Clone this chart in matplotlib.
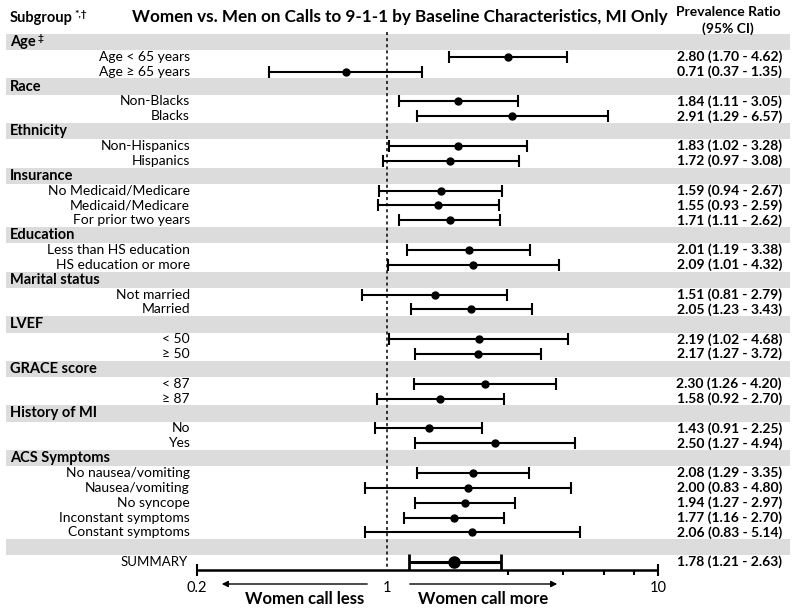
import matplotlib
matplotlib.use("Agg")
import matplotlib.pyplot as plt
import matplotlib.transforms as mtransforms
import numpy as np

plt.rcParams['font.family'] = ['Lato', 'DejaVu Sans']

# data
group_names = ["Age", "Race", "Ethnicity", "Insurance", "Education",
               "Marital status", "LVEF", "GRACE score", "History of MI", "ACS Symptoms"]
group_marks = ["\u2021", "", "", "", "", "", "", "", "", ""]
group_sizes = [2, 2, 2, 3, 2, 2, 2, 2, 2, 5]
sub_labels = ["Age < 65 years", "Age \u2265 65 years",
              "Non-Blacks", "Blacks",
              "Non-Hispanics", "Hispanics",
              "No Medicaid/Medicare", "Medicaid/Medicare", "For prior two years",
              "Less than HS education", "HS education or more",
              "Not married", "Married",
              "< 50", "\u2265 50",
              "< 87", "\u2265 87",
              "No", "Yes",
              "No nausea/vomiting", "Nausea/vomiting", "No syncope",
              "Inconstant symptoms", "Constant symptoms"]
pr = [2.80, 0.71, 1.84, 2.91, 1.83, 1.72, 1.59, 1.55, 1.71, 2.01, 2.09,
      1.51, 2.05, 2.19, 2.17, 2.30, 1.58, 1.43, 2.50, 2.08, 2.00, 1.94, 1.77, 2.06]
lo = [1.70, 0.37, 1.11, 1.29, 1.02, 0.97, 0.94, 0.93, 1.11, 1.19, 1.01,
      0.81, 1.23, 1.02, 1.27, 1.26, 0.92, 0.91, 1.27, 1.29, 0.83, 1.27, 1.16, 0.83]
hi = [4.62, 1.35, 3.05, 6.57, 3.28, 3.08, 2.67, 2.59, 2.62, 3.38, 4.32,
      2.79, 3.43, 4.68, 3.72, 4.20, 2.70, 2.25, 4.94, 3.35, 4.80, 2.97, 2.70, 5.14]
sum_pr, sum_lo, sum_hi = 1.78, 1.21, 2.63
axis_ticks = [0.2, 1, 10]
minor_ticks = [2.8, 4.45, 6.35, 8.15]

W, H = 795, 608
fig = plt.figure(figsize=(W / 100, H / 100), dpi=100)
ax = fig.add_axes([0, 0, 1, 1])
ax.set_xscale('log')
ppd = 271.5   # pixels per decade
x1px = 386.5
ax.set_xlim(10 ** (-x1px / ppd), 10 ** ((W - x1px) / ppd))
row0, rowh = 42.0, 14.86
ax.set_ylim((H - row0) / rowh, -row0 / rowh)
ax.axis('off')

def px(x):
    return x / W

def rowy(y):
    return (y - row0) / rowh

tb = mtransforms.blended_transform_factory(ax.transAxes, ax.transData)
band_col = '#dcdcdc'

def band(r):
    ax.axhspan(r - 0.55, r + 0.55, xmin=px(6), xmax=px(790), color=band_col, lw=0, zorder=0)

# rows
r = 0
k = 0
for name, mark, n in zip(group_names, group_marks, group_sizes):
    band(r)
    t = ax.text(px(10), r, name, transform=tb, ha='left', va='center',
                fontsize=10.5, fontweight='bold')
    if mark:
        ax.annotate(mark, xy=(1, 1), xycoords=t, xytext=(1, 1), textcoords='offset points',
                    ha='left', va='top', fontsize=7.5, fontweight='bold')
    r += 1
    for i in range(n):
        ax.text(px(190), r, sub_labels[k], transform=tb, ha='right', va='center', fontsize=10)
        ax.errorbar(pr[k], r, xerr=[[pr[k] - lo[k]], [hi[k] - pr[k]]], fmt='o', color='black',
                    ms=5, lw=1.5, capsize=4.5, capthick=1.5, zorder=3)
        ax.text(px(782), r, f"{pr[k]:.2f} ({lo[k]:.2f} - {hi[k]:.2f})", transform=tb,
                ha='right', va='center', fontsize=10, fontweight='bold')
        r += 1
        k += 1

# blank band and summary
band(r)
r += 1
ax.text(px(188), r, "SUMMARY", transform=tb, ha='right', va='center', fontsize=9.5)
ax.errorbar(sum_pr, r, xerr=[[sum_pr - sum_lo], [sum_hi - sum_pr]], fmt='o', color='black',
            ms=8, lw=2.2, capsize=5.5, capthick=2, zorder=3)
ax.text(px(782), r, f"{sum_pr:.2f} ({sum_lo:.2f} - {sum_hi:.2f})", transform=tb,
        ha='right', va='center', fontsize=10, fontweight='bold')

# reference line at 1
ax.vlines(1, rowy(32), rowy(570), colors='black', linestyles=(0, (2, 2)), lw=1.1, zorder=2)

# bottom axis
ya = rowy(570)
ax.hlines(ya, axis_ticks[0], axis_ticks[-1], colors='black', lw=1.8)
ax.vlines([axis_ticks[0], axis_ticks[-1]], rowy(564), rowy(576), colors='black', lw=1.5)
ax.vlines(minor_ticks, ya, rowy(575), colors='black', lw=1.5)
for v in axis_ticks:
    ax.text(v, rowy(588), f"{v:g}", ha='center', va='center', fontsize=10.5)

# direction arrows
ya2 = rowy(584)
ax.annotate("", xy=(px(219), ya2), xytext=(px(370), ya2), xycoords=tb, textcoords=tb,
            arrowprops=dict(arrowstyle='-|>', color='black', lw=1, mutation_scale=9))
ax.annotate("", xy=(px(560), ya2), xytext=(px(407), ya2), xycoords=tb, textcoords=tb,
            arrowprops=dict(arrowstyle='-|>', color='black', lw=1, mutation_scale=9))
ax.text(px(305), rowy(599), "Women call less", transform=tb, ha='center', va='center',
        fontsize=12, fontweight='bold')
ax.text(px(483), rowy(599), "Women call more", transform=tb, ha='center', va='center',
        fontsize=12, fontweight='bold')

# headers
t = ax.text(px(10), rowy(18), "Subgroup", transform=tb, ha='left', va='center',
            fontsize=10.5, fontweight='bold')
ax.annotate("*,\u2020", xy=(1, 1), xycoords=t, xytext=(1, 1), textcoords='offset points',
            ha='left', va='top', fontsize=7.5, fontweight='bold')
ax.text(px(400), rowy(17), "Women vs. Men on Calls to 9-1-1 by Baseline Characteristics, MI Only",
        transform=tb, ha='center', va='center', fontsize=12.3, fontweight='bold')
ax.text(px(728), rowy(12), "Prevalence Ratio", transform=tb, ha='center', va='center',
        fontsize=10, fontweight='bold')
ax.text(px(728), rowy(29), "(95% CI)", transform=tb, ha='center', va='center',
        fontsize=10, fontweight='bold')

fig.savefig("out.png", dpi=100)
